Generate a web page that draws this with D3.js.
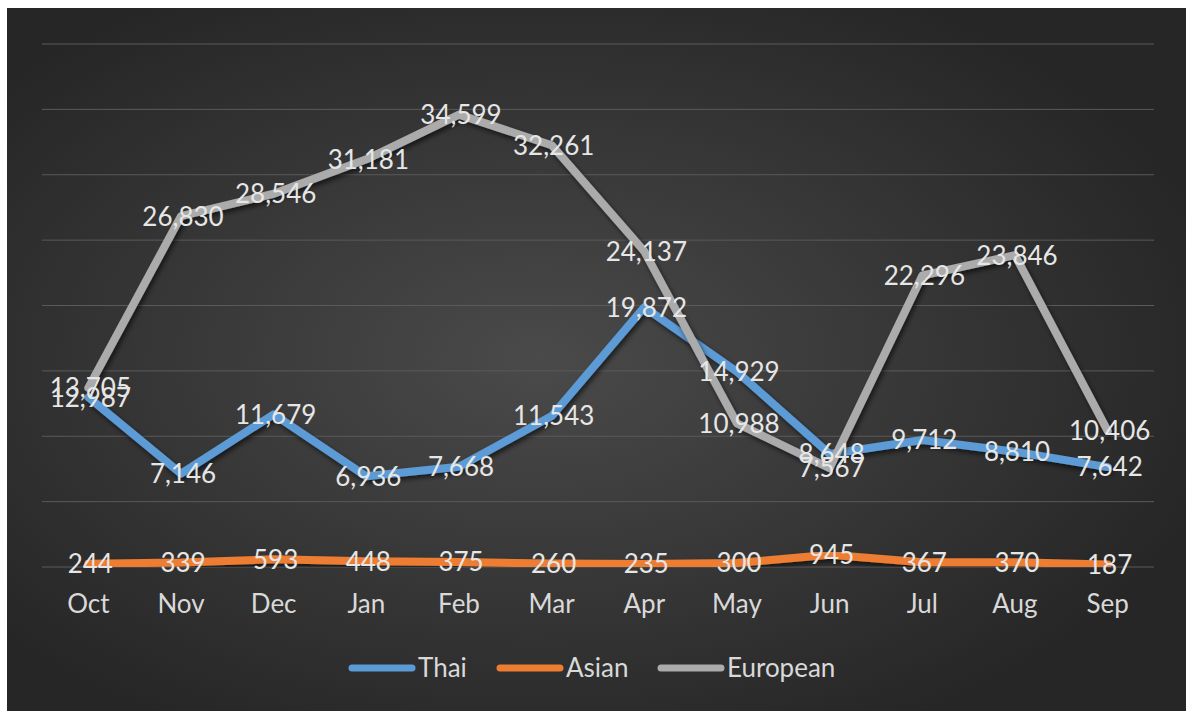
<!DOCTYPE html>
<html>
<head>
<meta charset="utf-8">
<style>
  html, body { margin: 0; padding: 0; background: #fff; }
  svg { display: block; }
  text { font-family: Lato, "Open Sans", sans-serif; }
</style>
</head>
<body>
<svg></svg>
<script src="https://cdnjs.cloudflare.com/ajax/libs/d3/7.8.5/d3.min.js"></script>
<script>
  let width = 1186,
      height = 711;

  // chart data
  const months = ["Oct", "Nov", "Dec", "Jan", "Feb", "Mar", "Apr", "May", "Jun", "Jul", "Aug", "Sep"];
  const thai = [12987, 7146, 11679, 6936, 7668, 11543, 19872, 14929, 8648, 9712, 8810, 7642];
  const asian = [244, 339, 593, 448, 375, 260, 235, 300, 945, 367, 370, 187];
  const european = [13705, 26830, 28546, 31181, 34599, 32261, 24137, 10988, 7567, 22296, 23846, 10406];
  const yTicks = [0, 5000, 10000, 15000, 20000, 25000, 30000, 35000, 40000];

  const series = [
    { name: "Thai", values: thai, color: "#5b9bd5" },
    { name: "Asian", values: asian, color: "#ed7d31" },
    { name: "European", values: european, color: "#ababab" }
  ];

  let svg = d3.select("svg").attr("width", width).attr("height", height);

  let defs = svg.append("defs");
  let grad = defs.append("radialGradient")
    .attr("id", "bg")
    .attr("cx", "45%").attr("cy", "50%").attr("r", "60%");
  grad.append("stop").attr("offset", "0%").attr("stop-color", "#4a4a4a");
  grad.append("stop").attr("offset", "100%").attr("stop-color", "#262626");

  let shadow = defs.append("filter").attr("id", "shadow")
    .attr("x", "-20%").attr("y", "-20%").attr("width", "140%").attr("height", "140%");
  shadow.append("feDropShadow")
    .attr("dx", 2).attr("dy", 3).attr("stdDeviation", 2.5)
    .attr("flood-color", "#000").attr("flood-opacity", 0.6);

  // background
  svg.append("rect")
    .attr("x", 7).attr("y", 8)
    .attr("width", width - 7).attr("height", height - 8)
    .attr("fill", "url(#bg)");

  let margin = { left: 42, right: 32, top: 44, bottom: 144 };

  let x = d3.scaleBand()
    .domain(months)
    .range([margin.left, width - margin.right]);

  let y = d3.scaleLinear()
    .domain([0, 40000])
    .range([height - margin.bottom, margin.top]);

  // gridlines
  svg.append("g")
    .selectAll("line")
    .data(yTicks)
    .enter()
    .append("line")
    .attr("x1", margin.left)
    .attr("x2", width - margin.right)
    .attr("y1", d => y(d))
    .attr("y2", d => y(d))
    .attr("stroke", "#5a5a5a")
    .attr("stroke-width", 1);

  // x axis labels
  svg.append("g")
    .selectAll("text")
    .data(months)
    .enter()
    .append("text")
    .attr("x", d => x(d) + x.bandwidth() / 2)
    .attr("y", y(0) + 46)
    .attr("text-anchor", "middle")
    .attr("fill", "#d9d9d9")
    .style("font-size", "26px")
    .text(d => d);

  let line = d3.line()
    .x((d, i) => x(months[i]) + x.bandwidth() / 2)
    .y(d => y(d));

  // lines
  svg.append("g")
    .selectAll("path")
    .data(series)
    .enter()
    .append("path")
    .attr("d", d => line(d.values))
    .attr("fill", "none")
    .attr("stroke", d => d.color)
    .attr("stroke-width", 8)
    .attr("stroke-linejoin", "round")
    .attr("stroke-linecap", "round")
    .attr("filter", "url(#shadow)");

  // value labels
  let fmt = d3.format(",");
  series.forEach(s => {
    svg.append("g")
      .selectAll("text")
      .data(s.values)
      .enter()
      .append("text")
      .attr("x", (d, i) => x(months[i]) + x.bandwidth() / 2 + 2)
      .attr("y", d => y(d))
      .attr("dy", "0.36em")
      .attr("text-anchor", "middle")
      .attr("fill", "#e6e6e6")
      .style("font-size", "26px")
      .text(d => fmt(d));
  });

  // legend
  let legendX = [348, 496, 657];
  let legend = svg.append("g")
    .selectAll("g")
    .data(series)
    .enter()
    .append("g")
    .attr("transform", (d, i) => "translate(" + legendX[i] + ",668)");

  legend.append("line")
    .attr("x1", 4).attr("x2", 64)
    .attr("y1", 0).attr("y2", 0)
    .attr("stroke", d => d.color)
    .attr("stroke-width", 7)
    .attr("stroke-linecap", "round");

  legend.append("text")
    .attr("x", 70)
    .attr("y", 0)
    .attr("dy", "0.36em")
    .attr("fill", "#d9d9d9")
    .style("font-size", "26px")
    .text(d => d.name);
</script>
</body>
</html>
